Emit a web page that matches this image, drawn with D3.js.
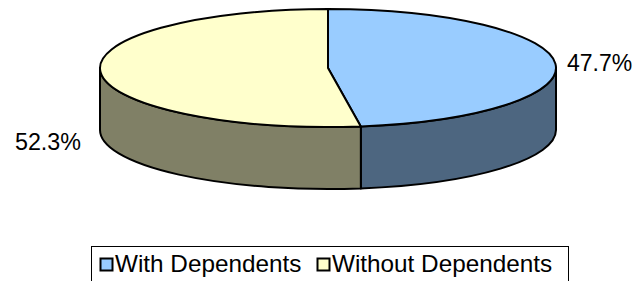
<!DOCTYPE html>
<html>
<head>
<meta charset="utf-8">
<script src="https://cdn.jsdelivr.net/npm/d3@7"></script>
<style>
  body { margin: 0; background: #fff; }
  svg { display: block; font-family: "Liberation Sans", Arial, sans-serif; }
</style>
</head>
<body>
<svg id="chart" width="639" height="281"></svg>
<script>
// data
const categories = ['With Dependents', 'Without Dependents'];
const values = [47.7, 52.3];
const labels = ['47.7%', '52.3%'];
const topColors = ['#99CCFF', '#FFFFCC'];
const sideColors = ['#4D6680', '#808066'];

const svg = d3.select('#chart');

// ellipse geometry of the 3d pie
const cx = 328, cy = 68, rx = 228, ry = 59, depth = 62;

const pie = d3.pie().sort(null).value(d => d);
const arcs = pie(values);

// point on the top (or bottom) ellipse, d3 angle: 0 at top, clockwise
const pt = (a, dy = 0) => [cx + rx * Math.sin(a), cy - ry * Math.cos(a) + dy];

// side walls, only the front half (pi/2 .. 3pi/2) is visible
const sides = svg.append('g').attr('class', 'sides');
arcs.forEach((d, i) => {
  const a0 = Math.max(d.startAngle, Math.PI / 2);
  const a1 = Math.min(d.endAngle, Math.PI * 3 / 2);
  if (a1 <= a0) return;
  const p0 = pt(a0), p1 = pt(a1), q1 = pt(a1, depth), q0 = pt(a0, depth);
  const path = `M${p0}A${rx},${ry} 0 0 1 ${p1}L${q1}A${rx},${ry} 0 0 0 ${q0}Z`;
  sides.append('path')
    .attr('d', path)
    .attr('fill', sideColors[i])
    .attr('stroke', '#000')
    .attr('stroke-width', 2)
    .attr('stroke-linejoin', 'round');
});

// top slices
const tops = svg.append('g').attr('class', 'tops');
arcs.forEach((d, i) => {
  const p0 = pt(d.startAngle), p1 = pt(d.endAngle);
  const large = d.endAngle - d.startAngle > Math.PI ? 1 : 0;
  tops.append('path')
    .attr('d', `M${cx},${cy}L${p0}A${rx},${ry} 0 ${large} 1 ${p1}Z`)
    .attr('fill', topColors[i])
    .attr('stroke', '#000')
    .attr('stroke-width', 2)
    .attr('stroke-linejoin', 'round');
});

// percentage labels, outside the pie
svg.append('text')
  .attr('x', cx + rx + 11)
  .attr('y', 71)
  .attr('font-size', 23)
  .attr('text-anchor', 'start')
  .text(labels[0]);
svg.append('text')
  .attr('x', cx - rx - 19)
  .attr('y', 150)
  .attr('font-size', 23.3)
  .attr('text-anchor', 'end')
  .text(labels[1]);

// legend
const legend = svg.append('g').attr('class', 'legend');
legend.append('rect')
  .attr('x', 91.5).attr('y', 246.5)
  .attr('width', 477).attr('height', 50)
  .attr('fill', '#fff')
  .attr('stroke', '#000')
  .attr('stroke-width', 1);

const legendX = [100, 317];
categories.forEach((c, i) => {
  legend.append('rect')
    .attr('x', legendX[i] + 0.5).attr('y', 258.5)
    .attr('width', 12).attr('height', 12)
    .attr('fill', topColors[i])
    .attr('stroke', '#000')
    .attr('stroke-width', 2);
  legend.append('text')
    .attr('x', legendX[i] + 15)
    .attr('y', 272)
    .attr('font-size', 24.3)
    .text(c);
});
</script>
</body>
</html>
